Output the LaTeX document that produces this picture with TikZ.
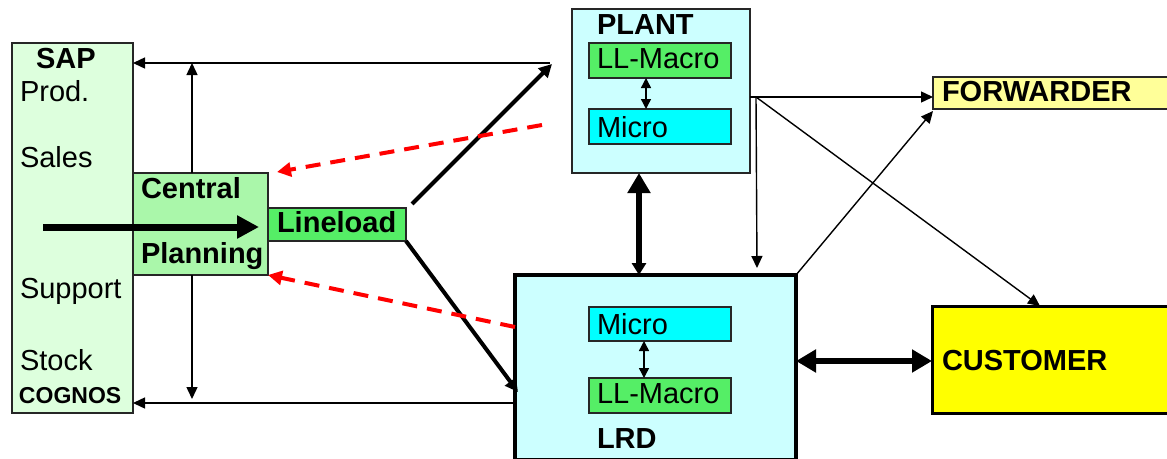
\documentclass[tikz,border=0pt]{standalone}
\usepackage{fontspec}
\setmainfont{Liberation Sans}
\usetikzlibrary{arrows.meta}
\definecolor{sapg}{HTML}{DDFFDD}
\definecolor{cpg}{HTML}{AAF7AA}
\definecolor{llg}{HTML}{55EE66}
\definecolor{lcy}{HTML}{CCFFFF}
\definecolor{cyn}{HTML}{00FFFF}
\definecolor{lye}{HTML}{FFFF99}
\definecolor{yel}{HTML}{FFFF00}
\definecolor{dred}{HTML}{FF0000}
\begin{document}
\begin{tikzpicture}[x=1pt,y=-1pt,
  box/.style={draw=black!85, line width=1.4pt, inner sep=0pt, outer sep=0pt, rectangle},
  txt/.style={inner sep=0pt, outer sep=0pt, anchor=base west, font={\fontsize{29}{34}\selectfont}},
  btxt/.style={inner sep=0pt, outer sep=0pt, anchor=base west, font={\fontsize{29}{34}\selectfont\bfseries}},
  thinarr/.style={line width=1.4pt, -{Triangle[length=12pt,width=11pt]}},
  thindbl/.style={line width=1.4pt, {Triangle[length=10pt,width=10pt]}-{Triangle[length=10pt,width=10pt]}},
  thickarr/.style={line width=4pt, -{Triangle[length=13pt,width=13pt]}},
  bigarr/.style={line width=7pt, -{Triangle[length=22pt,width=22pt]}},
  fatdbl/.style={line width=6pt, {Triangle[length=20pt,width=22pt]}-{Triangle[length=20pt,width=22pt]}},
  reddash/.style={draw=dred, line width=4pt, dash pattern=on 15pt off 10pt, -{Triangle[length=14pt,width=14pt]}}
]
\useasboundingbox[fill=white] (0,0) rectangle (1167,458);

% boxes
\node[box, fill=sapg, minimum width=121pt, minimum height=370pt] (sap) at (72.5,228) {};
\node[box, fill=cpg, minimum width=135pt, minimum height=102pt] (cp) at (200.5,224) {};
\node[box, fill=llg, minimum width=138pt, minimum height=33pt] (ll) at (337,224.5) {};
\node[box, fill=lcy, minimum width=178pt, minimum height=164pt] (plant) at (661,91) {};
\node[box, fill=llg, minimum width=142pt, minimum height=35pt] (plm) at (660,60.5) {};
\node[box, fill=cyn, minimum width=142pt, minimum height=35pt] (pmi) at (660,126.5) {};
\node[box, fill=lye, minimum width=242pt, minimum height=32pt] (fwd) at (1054,93) {};
\node[box, fill=lcy, line width=4.5pt, draw=black, minimum width=281pt, minimum height=185pt] (lrd) at (655.5,367.5) {};
\node[box, fill=cyn, minimum width=142pt, minimum height=34pt] (lmi) at (660,324) {};
\node[box, fill=llg, minimum width=142pt, minimum height=35pt] (llm) at (660,395.5) {};
\node[box, fill=yel, line width=3pt, draw=black, minimum width=243pt, minimum height=107pt] (cus) at (1053.5,359.5) {};

% texts
\node[btxt] (tsap) at (36,68) {SAP};
\node[txt] (tprod) at (20,101) {Prod.};
\node[txt] (tsales) at (20,167) {Sales};
\node[txt] (tsupp) at (20,298) {Support};
\node[txt] (tstock) at (20,370) {Stock};
\node[inner sep=0pt, outer sep=0pt, anchor=base west, font={\fontsize{23}{28}\selectfont\bfseries}] (tcog) at (19,403) {COGNOS};
\node[btxt] (tcen) at (141,198) {Central};
\node[btxt] (tplan) at (141,263) {Planning};
\node[btxt] (tll) at (277,232) {Lineload};
\node[btxt] (tplant) at (597,34) {PLANT};
\node[txt] (tplm) at (597,68) {LL-Macro};
\node[txt] (tpmi) at (597,137) {Micro};
\node[btxt] (tfwd) at (942,101) {FORWARDER};
\node[txt] (tlmi) at (597,334) {Micro};
\node[txt] (tllm) at (597,403) {LL-Macro};
\node[btxt] (tlrd) at (597,448) {LRD};
\node[btxt] (tcus) at (942,370) {CUSTOMER};

% coordinates
\coordinate (c1) at (550,63);
\coordinate (v1) at (192,63);
\coordinate (v2) at (192,399);
\coordinate (b1) at (515,403);
\coordinate (a1) at (43,227);
\coordinate (a2) at (259,227);
\coordinate (l1) at (412,204);
\coordinate (l2) at (552,64);
\coordinate (l3) at (518,392);
\coordinate (r1) at (542,125);
\coordinate (r2) at (277,172);
\coordinate (r3) at (515,327);
\coordinate (p1) at (756,97);
\coordinate (p2) at (757,268);
\coordinate (p3) at (1040,306);
\coordinate (f1) at (933,111);
\coordinate (k1) at (639,0);
\coordinate (k2) at (646,0);
\coordinate (k3) at (644,0);
\coordinate (h1) at (0,361);

% connectors
\draw[thinarr] (c1) -- (sap.east |- c1);
\draw[thinarr] (cp.north -| v1) -- (v1);
\draw[thinarr] (cp.south -| v2) -- (v2);
\draw[thinarr] (b1) -- (sap.east |- b1);
\draw[bigarr] (a1) -- (a2);
\draw[thickarr] (l1) -- (l2);
\draw[thickarr] (ll.south east) -- (l3);
\draw[reddash] (r1) -- (r2);
\draw[reddash] (r3) -- (cp.south east);
\draw[thindbl] (plm.south -| k2) -- (pmi.north -| k2);
\draw[thindbl] (lmi.south -| k3) -- (llm.north -| k3);
\draw[line width=6pt, {Triangle[length=20pt,width=22pt]}-{Triangle[length=12pt,width=14pt]}] (plant.south -| k1) -- (lrd.north -| k1);
\draw[fatdbl] (lrd.east |- h1) -- (cus.west |- h1);
\draw[line width=1.4pt] (plant.east |- p1) -- (p1);
\draw[thinarr] (p1) -- (fwd.west |- p1);
\draw[thinarr] (p1) -- (p2);
\draw[thinarr] (p1) -- (p3);
\draw[thinarr] (lrd.north east) -- (f1);
\end{tikzpicture}
\end{document}
